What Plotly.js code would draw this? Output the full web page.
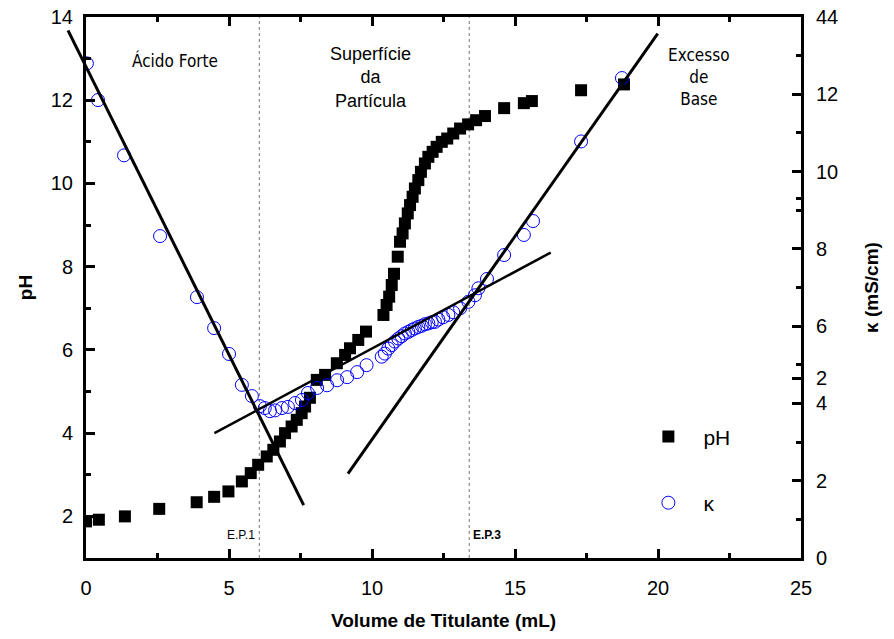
<!DOCTYPE html>
<html>
<head>
<meta charset="utf-8">
<script src="https://cdn.plot.ly/plotly-3.0.1.min.js"></script>
<style>html,body{margin:0;padding:0;background:#fff;}</style>
</head>
<body>
<div id="chart" style="width:894px;height:639px;"></div>
<script>
// ---- Data ----
var phVolume = [0.0,0.45,1.36,2.56,3.87,4.48,4.98,5.45,5.76,6.02,6.32,6.55,6.78,6.96,7.19,7.37,7.54,7.66,7.83,8.07,8.36,8.77,9.06,9.23,9.52,9.79,10.40,10.51,10.60,10.69,10.77,10.90,10.98,11.07,11.15,11.25,11.33,11.42,11.50,11.62,11.71,11.85,11.97,12.12,12.26,12.44,12.63,12.84,13.08,13.36,13.64,13.95,14.62,15.31,15.59,17.31,18.81];
var phValue  = [1.88,1.92,2.00,2.18,2.34,2.47,2.60,2.84,3.04,3.24,3.44,3.60,3.80,4.00,4.16,4.32,4.48,4.64,4.85,5.28,5.40,5.68,5.88,6.04,6.24,6.44,6.84,7.08,7.28,7.56,7.83,8.24,8.60,8.80,9.04,9.28,9.48,9.68,9.88,10.08,10.28,10.48,10.64,10.76,10.88,11.00,11.08,11.20,11.32,11.42,11.52,11.62,11.81,11.93,11.98,12.24,12.38];

var kVolume = [0.03,0.42,1.33,2.59,3.88,4.48,5.00,5.45,5.80,6.08,6.25,6.43,6.61,6.85,7.06,7.31,7.55,7.76,8.08,8.43,8.78,9.13,9.48,9.81,10.34,10.45,10.57,10.69,10.80,10.92,11.04,11.15,11.27,11.39,11.50,11.62,11.74,11.85,11.97,12.09,12.20,12.32,12.49,12.67,12.84,13.08,13.37,13.60,13.72,14.02,14.62,15.31,15.63,17.31,18.74];
var kValue  = [12.80,11.85,10.42,8.33,6.75,5.95,5.28,4.48,4.19,3.93,3.88,3.80,3.82,3.88,3.91,4.01,4.09,4.27,4.40,4.47,4.60,4.68,4.81,4.99,5.21,5.29,5.42,5.51,5.60,5.68,5.74,5.81,5.85,5.90,5.94,5.98,6.01,6.05,6.07,6.10,6.11,6.17,6.23,6.29,6.36,6.46,6.63,6.80,6.98,7.22,7.84,8.36,8.72,10.78,12.42];

// fitted lines (endpoints, in volume / pH-axis units)
var fit1X = [-0.63, 7.61], fit1Y = [13.68, 2.27];
var fit2X = [4.49, 16.25], fit2Y = [4.00, 8.34];
var fit3X = [9.16, 19.99], fit3Y = [3.03, 13.60];

var equivVolumes = [6.06, 13.40];
var equivLabels = ["E.P.1", "<b>E.P.3</b>"];

var xTicks = [0, 5, 10, 15, 20, 25];
var yTicks = [2, 4, 6, 8, 10, 12, 14];
var y2Tickvals = [0, 2, 4, 4.65, 6, 8, 10, 12, 14];
var y2Ticktext = ["0", "2", "4", "2", "6", "8", "10", "12", "44"];
var y2Minor = [1, 3, 5, 7, 9, 9.3, 11, 13];

// ---- layout geometry ----
var W = 894, H = 639;
var mL = 56, mR = 93, mT = 17, mB = 81;
var plotW = W - mL - mR;
var a = 30 / plotW;             // main x domain start
var xRange = [0, 25];
var x3min = xRange[0] - (xRange[1] - xRange[0]) * a / (1 - a);

var AR = "Liberation Sans, Arial, sans-serif";
var NARROW = "Liberation Sans Narrow, DejaVu Sans Condensed, Arial Narrow, sans-serif";
var TC = "#000";

var traces = [
  {x: phVolume, y: phValue, type: "scatter", mode: "markers", name: "pH",
   legendgroup: "g1", xaxis: "x", yaxis: "y",
   marker: {symbol: "square", size: 12, color: "#000"}},
  {x: kVolume, y: kValue, type: "scatter", mode: "markers", name: "κ",
   legendgroup: "g2", xaxis: "x", yaxis: "y2",
   marker: {symbol: "circle-open", size: 13, color: "#0000ff", line: {width: 1, color: "#0000ff"}}},
  {x: fit1X, y: fit1Y, type: "scatter", mode: "lines", showlegend: false, hoverinfo: "skip",
   xaxis: "x3", yaxis: "y3", line: {color: "#000", width: 3}},
  {x: fit2X, y: fit2Y, type: "scatter", mode: "lines", showlegend: false, hoverinfo: "skip",
   xaxis: "x3", yaxis: "y3", line: {color: "#000", width: 2.5}},
  {x: fit3X, y: fit3Y, type: "scatter", mode: "lines", showlegend: false, hoverinfo: "skip",
   xaxis: "x3", yaxis: "y3", line: {color: "#000", width: 3}}
];

var shapes = equivVolumes.map(function(v){
  return {type: "line", xref: "x", yref: "paper", x0: v, x1: v, y0: 0, y1: 1,
          line: {color: "#777", width: 1, dash: "dot"}, layer: "below"};
});

var annotations = [];
equivVolumes.forEach(function(v, i){
  annotations.push({x: v, y: 1.55, xref: "x", yref: "y", text: equivLabels[i],
    showarrow: false, xanchor: i === 0 ? "right" : "left", xshift: i === 0 ? -2 : 2,
    font: {family: AR, size: 12, color: "#000"}});
});
annotations.push({x: 3.1, y: 12.95, xref: "x", yref: "y", text: "Ácido Forte", showarrow: false,
  font: {family: NARROW, size: 17, color: "#000"}});
annotations.push({x: 9.95, y: 12.55, xref: "x", yref: "y", text: "Superfície<br>da<br>Partícula",
  showarrow: false, align: "center", font: {family: AR, size: 18, color: "#000"}});
annotations.push({x: 21.45, y: 12.55, xref: "x", yref: "y", text: "Excesso<br>de<br>Base",
  showarrow: false, align: "center", font: {family: NARROW, size: 17, color: "#000"}});

var layout = {
  width: W, height: H,
  margin: {l: mL, r: mR, t: mT, b: mB},
  paper_bgcolor: "#fff", plot_bgcolor: "rgba(0,0,0,0)",
  font: {family: AR, size: 20, color: "#000"},
  showlegend: true,
  legend: {x: 0.775, y: 0.262, xanchor: "left", yanchor: "top",
    traceorder: "grouped", tracegroupgap: 36, itemwidth: 60,
    bgcolor: "rgba(0,0,0,0)", font: {family: AR, size: 21, color: "#000"}},
  xaxis: {domain: [a, 1], range: xRange, anchor: "y",
    tickmode: "array", tickvals: xTicks, ticks: "inside", ticklen: 9, tickwidth: 3, tickcolor: TC,
    minor: {dtick: 2.5, tick0: 0, ticks: "inside", ticklen: 5, tickwidth: 3, tickcolor: TC},
    showline: true, linewidth: 3, linecolor: "#000", mirror: "ticks",
    showgrid: false, zeroline: false, ticklabelstandoff: 10,
    tickfont: {family: AR, size: 20},
    title: {text: "<b>Volume de Titulante (mL)</b>", font: {family: AR, size: 19}, standoff: 16}},
  yaxis: {domain: [0, 1], range: [1, 14], anchor: "x",
    tickmode: "array", tickvals: yTicks, ticks: "inside", ticklen: 9, tickwidth: 3, tickcolor: TC,
    minor: {dtick: 1, tick0: 0, ticks: "inside", ticklen: 5, tickwidth: 3, tickcolor: TC},
    showline: true, linewidth: 3, linecolor: "#000",
    showgrid: false, zeroline: false, ticklabelstandoff: 6,
    tickfont: {family: AR, size: 20},
    title: {text: "<b>pH</b>", font: {family: AR, size: 19}, standoff: 14}},
  yaxis2: {overlaying: "y", side: "right", range: [0, 14], anchor: "x",
    tickmode: "array", tickvals: y2Tickvals, ticktext: y2Ticktext,
    ticks: "inside", ticklen: 9, tickwidth: 3, tickcolor: TC,
    minor: {tickmode: "array", tickvals: y2Minor, ticks: "inside", ticklen: 5, tickwidth: 3, tickcolor: TC},
    showline: true, linewidth: 3, linecolor: "#000",
    showgrid: false, zeroline: false, ticklabelstandoff: 8,
    tickfont: {family: AR, size: 20},
    title: {text: "<b>κ (mS/cm)</b>", font: {family: AR, size: 19}, standoff: 28}},
  xaxis3: {domain: [0, 1], range: [x3min, 25], anchor: "y3", visible: false, fixedrange: true},
  yaxis3: {domain: [0, 1], range: [1, 14], anchor: "x3", visible: false, fixedrange: true},
  shapes: shapes,
  annotations: annotations
};

Plotly.newPlot("chart", traces, layout, {displayModeBar: false, staticPlot: true});
</script>
</body>
</html>
